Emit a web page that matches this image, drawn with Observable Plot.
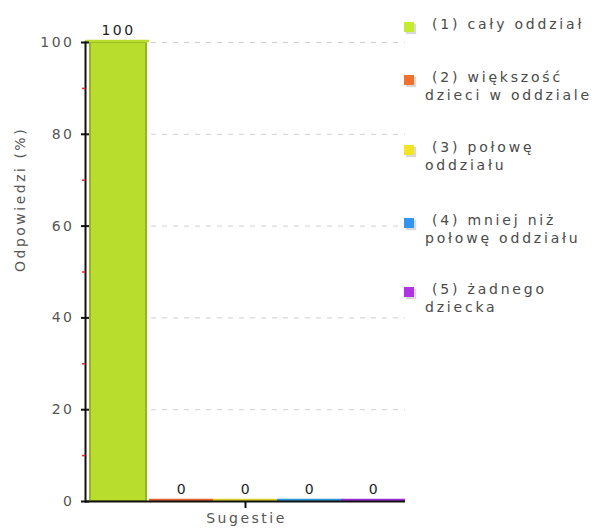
<!DOCTYPE html>
<html>
<head>
<meta charset="utf-8">
<script src="https://cdn.jsdelivr.net/npm/d3@7"></script>
<script src="https://cdn.jsdelivr.net/npm/@observablehq/plot@0.6"></script>
<style>
  html, body { margin: 0; padding: 0; background: #fff; }
  #wrap { position: relative; width: 594px; height: 529px; font-family: "DejaVu Sans", Verdana, sans-serif; }
  #legend { position: absolute; left: 404px; top: 0; width: 190px; }
  .item { position: absolute; left: 0; font-size: 14px; color: #4a4a4a; letter-spacing: 2.8px; line-height: 18px; }
  .sw { position: absolute; left: 0; width: 10px; height: 10px; box-shadow: 2px 2px 1px rgba(0,0,0,0.15); }
  .txt { position: absolute; white-space: nowrap; }
  svg text { font-family: "DejaVu Sans", Verdana, sans-serif; letter-spacing: 2.5px; }
</style>
</head>
<body>
<div id="wrap"></div>
<script>
const categories = ["(1) cały oddział", "(2) większość dzieci w oddziale", "(3) połowę oddziału", "(4) mniej niż połowę oddziału", "(5) żadnego dziecka"];
const legendLines = [["(1) cały oddział"], ["(2) większość", "dzieci w oddziale"], ["(3) połowę", "oddziału"], ["(4) mniej niż", "połowę oddziału"], ["(5) żadnego", "dziecka"]];
const values = [100, 0, 0, 0, 0];
const barColors = ["#b9dd2d", "#e0622e", "#d6cf2e", "#2f93d6", "#9a2fd6"];
const legendColors = ["#c2ec2c", "#f07030", "#f2e422", "#3394f0", "#b034e4"];
const majorTicks = [0, 20, 40, 60, 80, 100];
const minorTicks = [10, 30, 50, 70, 90];
const legendTops = [22, 75, 145, 218, 287];

const data = categories.map((c, i) => ({cat: c, value: values[i], color: barColors[i]}));

const chart = Plot.plot({
  width: 594,
  height: 529,
  marginLeft: 85,
  marginRight: 189,
  marginTop: 42,
  marginBottom: 28,
  style: {fontSize: "14px", color: "#555", background: "#fff"},
  x: {domain: categories, paddingInner: 0.03, paddingOuter: 0.0, axis: null},
  y: {domain: [0, 100], axis: null},
  marks: [
    Plot.gridY(majorTicks.filter(d => d > 0), {stroke: "#d0d0d0", strokeOpacity: 1, strokeDasharray: "5,6"}),
    Plot.barY(data.slice(0, 1), {x: "cat", y: "value", fill: "color", stroke: "#98b51f", strokeWidth: 2, insetLeft: 4, insetRight: 2}),
    Plot.tickY(data, {x: "cat", y: "value", stroke: "color", strokeWidth: 2.5, dy: -1.5, insetLeft: -1, insetRight: -1}),
    Plot.text(data, {x: "cat", y: "value", text: d => String(d.value), dy: -12, dx: 1, fill: "#222", fontSize: 14}),
    Plot.ruleY([0], {stroke: "#111", strokeWidth: 2}),
    Plot.frame({anchor: "left", stroke: "#111", strokeWidth: 2}),
    Plot.axisY(minorTicks, {anchor: "left", tickSize: 3, tickFormat: () => "", stroke: "#ff1a1a", strokeWidth: 1.5, label: null}),
    Plot.axisY(majorTicks, {anchor: "left", tickSize: 8, dx: 4, tickPadding: 7, stroke: "#111", strokeWidth: 2, fill: "#555", fontSize: 14, label: null}),
    Plot.text(["Odpowiedzi (%)"], {frameAnchor: "left", rotate: -90, dx: -65, fill: "#555", fontSize: 14}),
    Plot.axisX([categories[2]], {anchor: "bottom", tickSize: 7, tickFormat: () => "", stroke: "#111", strokeWidth: 2, label: null}),
    Plot.text(["Sugestie"], {frameAnchor: "bottom", dy: 21, dx: 1, fill: "#555", fontSize: 14})
  ]
});

const wrap = document.getElementById("wrap");
wrap.appendChild(chart);

const legend = document.createElement("div");
legend.id = "legend";
legendLines.forEach((lines, i) => {
  const item = document.createElement("div");
  item.className = "item";
  item.style.top = (legendTops[i] - 4) + "px";
  const sw = document.createElement("div");
  sw.className = "sw";
  sw.style.top = "4px";
  sw.style.background = legendColors[i];
  item.appendChild(sw);
  lines.forEach((l, j) => {
    const t = document.createElement("div");
    t.className = "txt";
    t.style.top = (j * 18 - 3) + "px";
    t.style.left = (j === 0 ? 28 : 21) + "px";
    t.textContent = l;
    item.appendChild(t);
  });
  legend.appendChild(item);
});
wrap.appendChild(legend);
</script>
</body>
</html>
